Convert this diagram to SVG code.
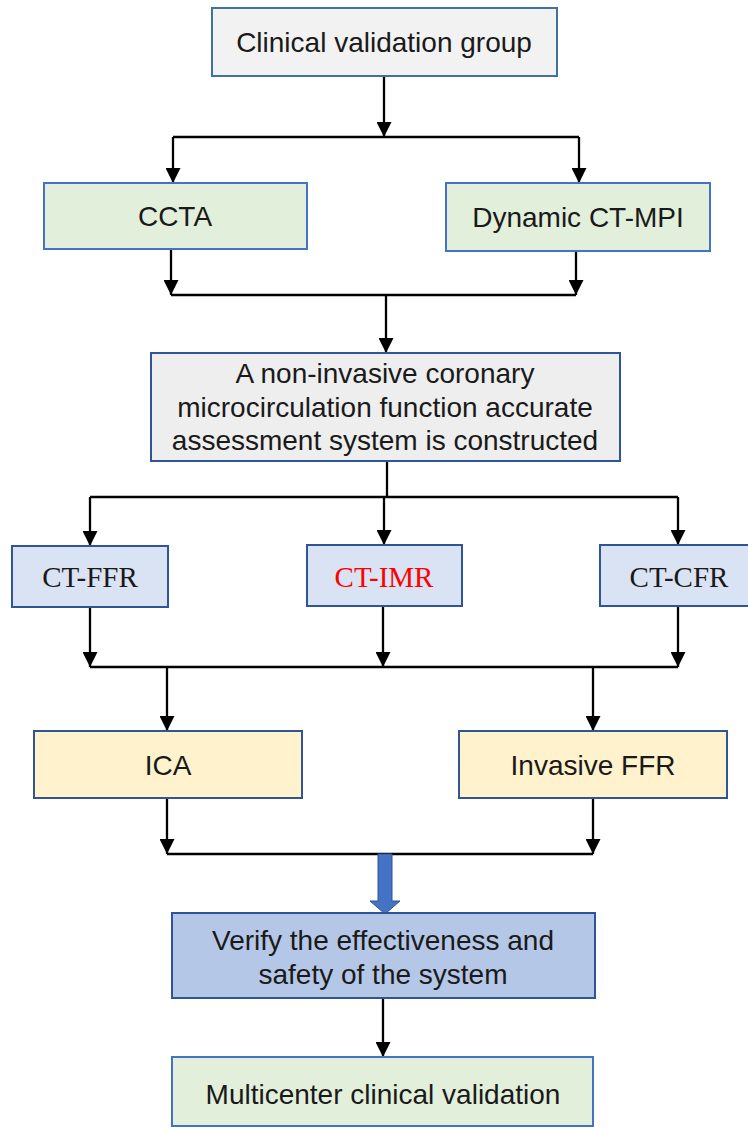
<svg xmlns="http://www.w3.org/2000/svg" width="748" height="1130" viewBox="0 0 748 1130">
<defs>
<marker id="ah" markerUnits="userSpaceOnUse" markerWidth="15" markerHeight="15" refX="15" refY="7.5" orient="auto">
<path d="M0,0 L15,7.5 L0,15 z" fill="#000"/>
</marker>
<style>
.box{stroke-width:2}
.t{font-family:"Liberation Sans",Arial,sans-serif;font-size:28px;fill:#1a1a1a;text-anchor:middle}
.tr{font-family:"Liberation Serif","Times New Roman",serif;font-size:29px;fill:#1a1a1a;text-anchor:middle}
.ln{fill:none;stroke:#000;stroke-width:2.3}
.arr{marker-end:url(#ah)}
.gray{fill:#f2f2f2;stroke:#41719c}
.green{fill:#e2efda;stroke:#4472c4}
.lblue{fill:#dae3f3;stroke:#2f5597}
.yel{fill:#fff2cc;stroke:#2f5597}
.blue{fill:#b4c7e7;stroke:#2f5597}
.gray2{fill:#eeeeee;stroke:#2f5597}
</style>
</defs>
<rect width="748" height="1130" fill="#fff"/>
<g id="connectors">
<path class="ln arr" d="M384,76 V137"/>
<path class="ln" d="M173,137 H579"/>
<path class="ln arr" d="M173,137 V183"/>
<path class="ln arr" d="M579,137 V183"/>
<path class="ln arr" d="M171,249 V295"/>
<path class="ln arr" d="M576,251 V295"/>
<path class="ln" d="M171,295 H576"/>
<path class="ln arr" d="M386,295 V353"/>
<path class="ln" d="M387,455 V497"/>
<path class="ln" d="M90,497 H678"/>
<path class="ln arr" d="M90,497 V546"/>
<path class="ln arr" d="M384,497 V545"/>
<path class="ln arr" d="M678,497 V545"/>
<path class="ln arr" d="M90,607 V667"/>
<path class="ln arr" d="M383,606 V667"/>
<path class="ln arr" d="M678,606 V667"/>
<path class="ln" d="M90,667 H678"/>
<path class="ln arr" d="M167,667 V731"/>
<path class="ln arr" d="M593,667 V731"/>
<path class="ln arr" d="M167,798 V854"/>
<path class="ln arr" d="M593,798 V854"/>
<path class="ln" d="M167,854 H593"/>
<path d="M378,854 H392 V901 H400 L385,914 L370,901 H378 Z" fill="#4472c4" stroke="#2f5597" stroke-width="1"/>
<path class="ln arr" d="M383,998 V1057"/>
</g>
<g id="n1"><rect class="box gray" x="212" y="8" width="345" height="68"/><text class="t" x="384" y="52">Clinical validation group</text></g>
<g id="n2"><rect class="box green" x="44" y="183" width="263" height="66"/><text class="t" x="175" y="226">CCTA</text></g>
<g id="n3"><rect class="box green" x="446" y="183" width="264" height="68"/><text class="t" x="578" y="227">Dynamic CT-MPI</text></g>
<g id="n4"><rect class="box gray2" x="151" y="353" width="469" height="108"/>
<text class="t" x="385" y="383">A non-invasive coronary</text>
<text class="t" x="385" y="417">microcirculation function accurate</text>
<text class="t" x="385" y="450">assessment system is constructed</text></g>
<g id="n5"><rect class="box lblue" x="12" y="546" width="156" height="61"/><text class="tr" x="90" y="587">CT-FFR</text></g>
<g id="n6"><rect class="box lblue" x="307" y="545" width="155" height="61"/><text class="tr" x="384" y="587" style="fill:#ff0000">CT-IMR</text></g>
<g id="n7"><rect class="box lblue" x="600" y="545" width="158" height="61"/><text class="tr" x="679" y="587">CT-CFR</text></g>
<g id="n8"><rect class="box yel" x="34" y="731" width="268" height="67"/><text class="t" x="168" y="775">ICA</text></g>
<g id="n9"><rect class="box yel" x="459" y="731" width="268" height="67"/><text class="t" x="593" y="775">Invasive FFR</text></g>
<g id="n10"><rect class="box blue" x="172" y="913" width="423" height="85"/>
<text class="t" x="383" y="950">Verify the effectiveness and</text>
<text class="t" x="383" y="984">safety of the system</text></g>
<g id="n11"><rect class="box green" x="172" y="1057" width="421" height="69"/><text class="t" x="383" y="1104">Multicenter clinical validation</text></g>
</svg>
